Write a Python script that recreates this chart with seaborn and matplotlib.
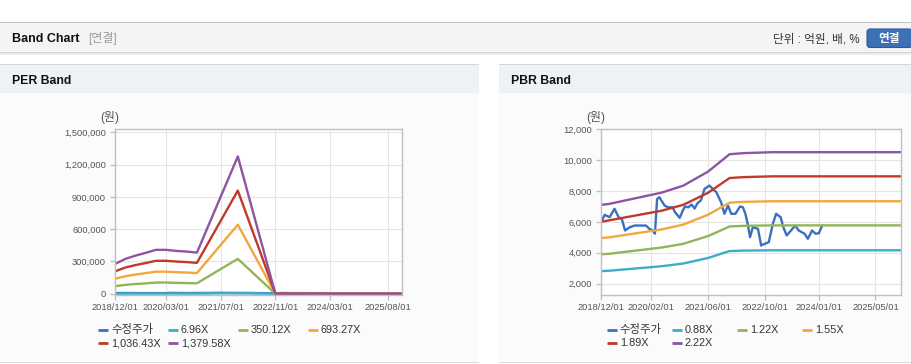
import numpy as np
import pandas as pd
import matplotlib
matplotlib.use('Agg')
import matplotlib.pyplot as plt
from matplotlib.patches import Rectangle, FancyBboxPatch
from matplotlib.ticker import FuncFormatter
import seaborn as sns

sns.set_theme(style='white')
plt.rcParams['font.family'] = ['Liberation Sans', 'Noto Sans CJK KR']

# ---------------- data ----------------
price_label = '수정주가'
price_dates = ['2018-12-01', '2018-12-30', '2019-02-10', '2019-03-24', '2019-04-28', '2019-05-25',
               '2019-06-22', '2019-08-01', '2019-09-12', '2019-12-18', '2020-01-15', '2020-02-15',
               '2020-03-03', '2020-03-22', '2020-04-10', '2020-05-25', '2020-06-22', '2020-08-01',
               '2020-08-22', '2020-10-01', '2020-10-28', '2020-11-15', '2020-12-15', '2021-01-10',
               '2021-02-05', '2021-02-28', '2021-04-01', '2021-05-01', '2021-06-12', '2021-07-10',
               '2021-08-10', '2021-09-20', '2021-10-18', '2021-11-18', '2021-12-15', '2022-01-20',
               '2022-02-28', '2022-03-25', '2022-04-15', '2022-05-05', '2022-05-25', '2022-06-18',
               '2022-08-01', '2022-08-28', '2022-09-28', '2022-11-01', '2022-12-06', '2023-01-03',
               '2023-02-10', '2023-03-06', '2023-04-03', '2023-05-10', '2023-06-15', '2023-07-15',
               '2023-09-03', '2023-10-01', '2023-11-06', '2023-12-06', '2024-01-03', '2024-02-01']
price_values = [6000, 6450, 6300, 6840, 6300, 6190,
                5440, 5650, 5760, 5760, 5550, 5440,
                5230, 7480, 7590, 7050, 6940, 6940,
                6620, 6260, 6730, 6990, 6940, 7120,
                6860, 7180, 7400, 8130, 8340, 8130,
                7910, 7260, 6520, 7050, 6520, 6520,
                6990, 6940, 6520, 5870, 5010, 5650,
                5550, 4470, 4580, 4680, 5870, 6520,
                6300, 5650, 5120, 5440, 5760, 5440,
                5230, 4900, 5440, 5230, 5260, 5760]

# PER band
per_labels = ['6.96X', '350.12X', '693.27X', '1,036.43X', '1,379.58X']
per_dates = ['2018-12-01', '2019-03-01', '2019-06-01', '2019-09-01', '2019-12-01', '2020-03-01',
             '2020-06-01', '2020-09-01', '2020-12-01', '2021-12-01', '2022-11-01', '2025-12-05']
per_696 = [1400, 1600, 1800, 1900, 2100, 2100, 2000, 2000, 1900, 6400, 0, 0]
per_35012 = [70000, 82000, 90000, 96000, 104000, 104000, 101000, 99000, 97000, 324000, 0, 0]
per_69327 = [139000, 162000, 178000, 191000, 205000, 205000, 200000, 197000, 192000, 642000, 0, 0]
per_103643 = [208000, 243000, 266000, 285000, 306000, 306000, 299000, 294000, 287000, 959000, 0, 0]
per_137958 = [277000, 323000, 354000, 380000, 408000, 408000, 398000, 392000, 382000, 1277000, 0, 0]
per_ticks = ['2018/12/01', '2020/03/01', '2021/07/01', '2022/11/01', '2024/03/01', '2025/08/01']

# PBR band
pbr_labels = ['0.88X', '1.22X', '1.55X', '1.89X', '2.22X']
pbr_dates = ['2018-12-01', '2019-02-01', '2020-05-01', '2020-11-01', '2021-06-01', '2021-12-01',
             '2022-04-01', '2022-12-01', '2025-12-05']
pbr_088 = [2815, 2835, 3130, 3305, 3665, 4110, 4140, 4160, 4160]
pbr_122 = [3900, 3930, 4340, 4580, 5080, 5700, 5740, 5770, 5770]
pbr_155 = [4960, 4990, 5510, 5820, 6460, 7240, 7290, 7330, 7330]
pbr_189 = [6000, 6090, 6720, 7100, 7880, 8830, 8890, 8940, 8940]
pbr_222 = [7100, 7150, 7890, 8340, 9250, 10370, 10440, 10500, 10500]
pbr_ticks = ['2018/12/01', '2020/02/01', '2021/06/01', '2022/10/01', '2024/01/01', '2025/05/01']

colors = ['#3b6fc0', '#3aaec8', '#92b55a', '#f0a83a', '#c0392b', '#8e55a0']


def build(dates, series_list, labels):
    frames = [pd.DataFrame({'date': pd.to_datetime(price_dates), 'value': price_values,
                            'series': price_label})]
    for vals, lab in zip(series_list, labels):
        frames.append(pd.DataFrame({'date': pd.to_datetime(dates), 'value': vals, 'series': lab}))
    return pd.concat(frames, ignore_index=True)


per_df = build(per_dates, [per_696, per_35012, per_69327, per_103643, per_137958], per_labels)
pbr_df = build(pbr_dates, [pbr_088, pbr_122, pbr_155, pbr_189, pbr_222], pbr_labels)

# ---------------- figure ----------------
W, H = 912, 364
fig = plt.figure(figsize=(W / 100, H / 100), dpi=100)
fig.patch.set_facecolor('white')

bg = fig.add_axes([0, 0, 1, 1], zorder=0)
bg.set_xlim(0, W)
bg.set_ylim(H, 0)
bg.axis('off')

# top header bar
bg.add_patch(Rectangle((0, 21.5), W, 1.5, fc='#c2c2c2', ec='none'))
bg.add_patch(Rectangle((0, 23), W, 29, fc='#f4f4f4', ec='none'))
bg.add_patch(Rectangle((0, 52), W, 1.3, fc='#d3d3d3', ec='none'))
bg.add_patch(Rectangle((0, 53.3), W, 1.2, fc='#ececec', ec='none'))
bg.text(12, 38.5, 'Band Chart', fontsize=9, fontweight='bold', color='#111111', va='center')
bg.text(88, 38.5, '[연결]', fontsize=8.6, color='#9a9a9a', va='center')
bg.text(860, 39, '단위 : 억원, 배, %', fontsize=8.4, color='#333333', va='center', ha='right')
bg.add_patch(FancyBboxPatch((867, 29), 45, 18.5, boxstyle='round,pad=0,rounding_size=3',
                            fc='#3d70b4', ec='#2d5b98', lw=0.8))
bg.text(889.5, 38.8, '연결', fontsize=8.4, fontweight='bold', color='white', va='center', ha='center')

# panels
for x0, w, title in [(0, 479, 'PER Band'), (499, 413, 'PBR Band')]:
    bg.add_patch(Rectangle((x0, 64), w, 1.2, fc='#d4d4d4', ec='none'))
    bg.add_patch(Rectangle((x0, 65.2), w, 27.8, fc='#eef1f6', ec='none'))
    bg.add_patch(Rectangle((x0, 93), w, 269, fc='#fbfbfb', ec='none'))
    bg.add_patch(Rectangle((x0, 362), w, 1.2, fc='#dcdcdc', ec='none'))
    bg.text(x0 + 12, 80.5, title, fontsize=8.8, fontweight='bold', color='#111111', va='center')

bg.text(110, 118, '(원)', fontsize=8.6, color='#555555', va='center', ha='center')
bg.text(596, 118, '(원)', fontsize=8.6, color='#555555', va='center', ha='center')

ax1 = fig.add_axes([115 / W, (H - 295) / H, 287 / W, 166 / H], zorder=2)
ax2 = fig.add_axes([601.3 / W, (H - 295) / H, 299.7 / W, 166 / H], zorder=2)

for ax, df, labels, ylim, yticks, xticks, ypad in [
        (ax1, per_df, per_labels, (-12000, 1532000), np.arange(0, 1500001, 300000), per_ticks, 2.9),
        (ax2, pbr_df, pbr_labels, (1270, 12000), np.arange(2000, 12001, 2000), pbr_ticks, 2.9)]:
    order = [price_label] + labels
    sns.lineplot(data=df, x='date', y='value', hue='series', hue_order=order,
                 palette=colors, linewidth=1.7, legend=False, ax=ax, sort=True,
                 estimator=None)
    ax.set_facecolor('white')
    ax.set_xlim(pd.Timestamp('2018-12-01'), pd.Timestamp('2025-12-05'))
    ax.set_ylim(*ylim)
    ax.set_yticks(yticks)
    ax.yaxis.set_major_formatter(FuncFormatter(lambda v, p: f'{v:,.0f}'))
    ax.set_xticks(pd.to_datetime([t.replace('/', '-') for t in xticks]))
    ax.set_xticklabels(xticks)
    ax.set_xlabel('')
    ax.set_ylabel('')
    ax.grid(True, color='#e4e4e4', linewidth=0.8)
    for sp in ax.spines.values():
        sp.set_color('#c0c0c0')
        sp.set_linewidth(1.0)
        sp.set_visible(True)
    ax.tick_params(axis='both', which='major', direction='out', length=3.5, width=1,
                   color='#c0c0c0', labelsize=6.7, labelcolor='#555555')
    ax.tick_params(axis='y', pad=ypad, left=True)
    ax.tick_params(axis='x', pad=2.3, bottom=True)


# legends (drawn in pixel coordinates)
def legend(xs, names, rows_y=(330, 343.3)):
    for i, (name, col) in enumerate(zip(names, colors)):
        r, c = divmod(i, 4)
        x = xs[c]
        y = rows_y[r]
        bg.plot([x, x + 10], [y, y], color=col, lw=2, solid_capstyle='butt')
        fs = 8.2 if name == price_label else 7.8
        bg.text(x + 13, y, name, fontsize=fs, color='#333333', va='center', ha='left')


legend([98, 168, 238, 308], [price_label] + per_labels)
legend([606.7, 671.7, 736.7, 801.7], [price_label] + pbr_labels)

fig.savefig('out.png', dpi=100, facecolor='white')
